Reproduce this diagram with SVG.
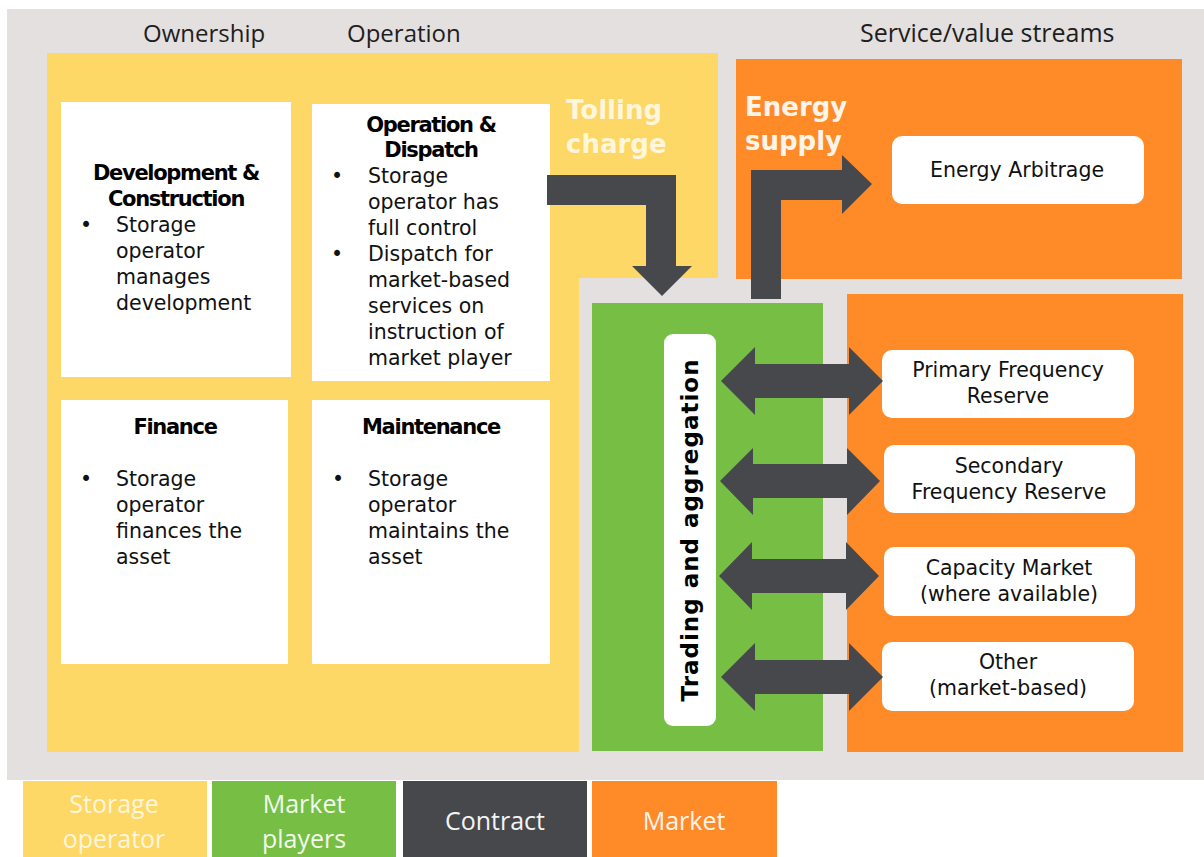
<svg xmlns="http://www.w3.org/2000/svg" width="1204" height="857" viewBox="0 0 1204 857">
  <defs>
    <style>
      .bg { fill: #E4E0DF; }
      .yellow { fill: #FDD866; }
      .green { fill: #76BE44; }
      .orange { fill: #FF8A28; }
      .dark { fill: #46484C; }
      .card { fill: #FFFFFF; }
      .hdr { font-family: "Open Sans", "Liberation Sans", sans-serif; font-size: 24px; fill: #1E1E1E; }
      .ttl { font-family: "DejaVu Sans", "Liberation Sans", sans-serif; font-size: 21px; font-weight: 700; fill: #000000; text-anchor: middle; letter-spacing: -1.3px; }
      .txt { font-family: "DejaVu Sans", "Liberation Sans", sans-serif; font-size: 20.5px; fill: #111111; }
      .svc { font-family: "DejaVu Sans", "Liberation Sans", sans-serif; font-size: 20.5px; fill: #111111; text-anchor: middle; }
      .big { font-family: "DejaVu Sans", "Liberation Sans", sans-serif; font-size: 26px; font-weight: 700; }
      .vert { font-family: "DejaVu Sans", "Liberation Sans", sans-serif; font-size: 23px; font-weight: 700; fill: #000000; text-anchor: middle; letter-spacing: 1px; }
      .leg { font-family: "Open Sans", "Liberation Sans", sans-serif; font-size: 25px; text-anchor: middle; }
    </style>
  </defs>

  <!-- canvas -->
  <rect x="0" y="0" width="1204" height="857" fill="#FFFFFF"/>
  <rect class="bg" x="7" y="9" width="1197" height="771"/>

  <!-- column headers -->
  <text class="hdr" x="143" y="42">Ownership</text>
  <text class="hdr" x="347" y="42">Operation</text>
  <text class="hdr" x="860" y="42" style="font-size:25px">Service/value streams</text>

  <!-- zones -->
  <g id="storage-operator-zone">
    <path class="yellow" d="M47 53 H718 V278 H579 V752 H47 Z"/>
    <text class="big" fill="#FFF6DC"><tspan x="566" y="119">Tolling</tspan><tspan x="566" dy="34">charge</tspan></text>
  </g>

  <g id="energy-supply-zone">
    <rect class="orange" x="736" y="59" width="446" height="220"/>
    <text class="big" fill="#FFF4EA"><tspan x="745" y="116">Energy</tspan><tspan x="745" dy="34">supply</tspan></text>
  </g>

  <g id="market-zone">
    <rect class="orange" x="847" y="294" width="336" height="458"/>
  </g>

  <g id="market-players-zone">
    <rect class="green" x="592" y="303" width="231" height="448"/>
  </g>

  <!-- storage operator activities -->
  <g id="development-construction">
    <rect class="card" x="61" y="102" width="230" height="275"/>
    <text class="ttl"><tspan x="176" y="180">Development &amp;</tspan><tspan x="176" dy="26">Construction</tspan></text>
    <text class="txt" x="80" y="232">•</text>
    <text class="txt"><tspan x="116" y="232">Storage</tspan><tspan x="116" dy="26">operator</tspan><tspan x="116" dy="26">manages</tspan><tspan x="116" dy="26">development</tspan></text>
  </g>

  <g id="operation-dispatch">
    <rect class="card" x="312" y="104" width="238" height="277"/>
    <text class="ttl"><tspan x="431" y="132">Operation &amp;</tspan><tspan x="431" dy="25">Dispatch</tspan></text>
    <text class="txt" x="331" y="183">•</text>
    <text class="txt"><tspan x="368" y="183">Storage</tspan><tspan x="368" dy="26">operator has</tspan><tspan x="368" dy="26">full control</tspan></text>
    <text class="txt" x="331" y="261">•</text>
    <text class="txt"><tspan x="368" y="261">Dispatch for</tspan><tspan x="368" dy="26">market-based</tspan><tspan x="368" dy="26">services on</tspan><tspan x="368" dy="26">instruction of</tspan><tspan x="368" dy="26">market player</tspan></text>
  </g>

  <g id="finance">
    <rect class="card" x="61" y="400" width="227" height="264"/>
    <text class="ttl" x="175" y="434">Finance</text>
    <text class="txt" x="80" y="486">•</text>
    <text class="txt"><tspan x="116" y="486">Storage</tspan><tspan x="116" dy="26">operator</tspan><tspan x="116" dy="26">finances the</tspan><tspan x="116" dy="26">asset</tspan></text>
  </g>

  <g id="maintenance">
    <rect class="card" x="312" y="400" width="238" height="264"/>
    <text class="ttl" x="431" y="434">Maintenance</text>
    <text class="txt" x="332" y="486">•</text>
    <text class="txt"><tspan x="368" y="486">Storage</tspan><tspan x="368" dy="26">operator</tspan><tspan x="368" dy="26">maintains the</tspan><tspan x="368" dy="26">asset</tspan></text>
  </g>

  <!-- market player -->
  <g id="trading-aggregation">
    <rect class="card" x="664" y="334" width="52" height="392" rx="9"/>
    <text class="vert" transform="translate(698 530) rotate(-90)">Trading and aggregation</text>
  </g>

  <!-- value streams -->
  <g id="energy-arbitrage">
    <rect class="card" x="892" y="136" width="252" height="68" rx="10"/>
    <text class="svc" x="1017" y="177">Energy Arbitrage</text>
  </g>
  <g id="primary-frequency-reserve">
    <rect class="card" x="882" y="350" width="252" height="68" rx="10"/>
    <text class="svc"><tspan x="1008" y="377">Primary Frequency</tspan><tspan x="1008" dy="26">Reserve</tspan></text>
  </g>
  <g id="secondary-frequency-reserve">
    <rect class="card" x="884" y="445" width="251" height="68" rx="10"/>
    <text class="svc"><tspan x="1009" y="473">Secondary</tspan><tspan x="1009" dy="26">Frequency Reserve</tspan></text>
  </g>
  <g id="capacity-market">
    <rect class="card" x="884" y="547" width="251" height="69" rx="10"/>
    <text class="svc"><tspan x="1009" y="575">Capacity Market</tspan><tspan x="1009" dy="26">(where available)</tspan></text>
  </g>
  <g id="other-market-based">
    <rect class="card" x="882" y="642" width="252" height="69" rx="10"/>
    <text class="svc"><tspan x="1008" y="669">Other</tspan><tspan x="1008" dy="26">(market-based)</tspan></text>
  </g>

  <!-- contract flows -->
  <g id="connectors">
    <!-- tolling charge: operator to market players -->
    <path class="dark" d="M547 175 H676 V266 H692 L662 296 L632 266 H646 V205 H547 Z"/>
    <!-- energy supply: market players to arbitrage -->
    <path class="dark" d="M751 299 V170 H842 V155 L872 184 L842 214 V200 H781 V299 Z"/>
    <!-- two-way links to market services -->
    <path class="dark" d="M721 381 L755 347 V364 H849 V347 L883 381 L849 415 V398 H755 V415 Z"/>
    <path class="dark" d="M720 481 L753 448 V464 H847 V448 L880 481 L847 515 V498 H753 V515 Z"/>
    <path class="dark" d="M719 576 L752 542 V559 H846 V542 L879 576 L846 610 V593 H752 V610 Z"/>
    <path class="dark" d="M721 677 L755 643 V660 H849 V643 L883 677 L849 711 V694 H755 V711 Z"/>
  </g>

  <!-- legend -->
  <g id="legend">
    <rect class="yellow" x="23" y="781" width="184" height="76"/>
    <text class="leg" fill="#FFF6DC"><tspan x="114" y="813">Storage</tspan><tspan x="114" dy="35">operator</tspan></text>
    <rect class="green" x="212" y="781" width="184" height="76"/>
    <text class="leg" fill="#F2FAEC"><tspan x="304" y="813">Market</tspan><tspan x="304" dy="35">players</tspan></text>
    <rect class="dark" x="403" y="781" width="184" height="76"/>
    <text class="leg" x="495" y="830" fill="#F4F4F4">Contract</text>
    <rect class="orange" x="592" y="781" width="185" height="76"/>
    <text class="leg" x="684" y="830" fill="#FFF4EA">Market</text>
  </g>
</svg>
